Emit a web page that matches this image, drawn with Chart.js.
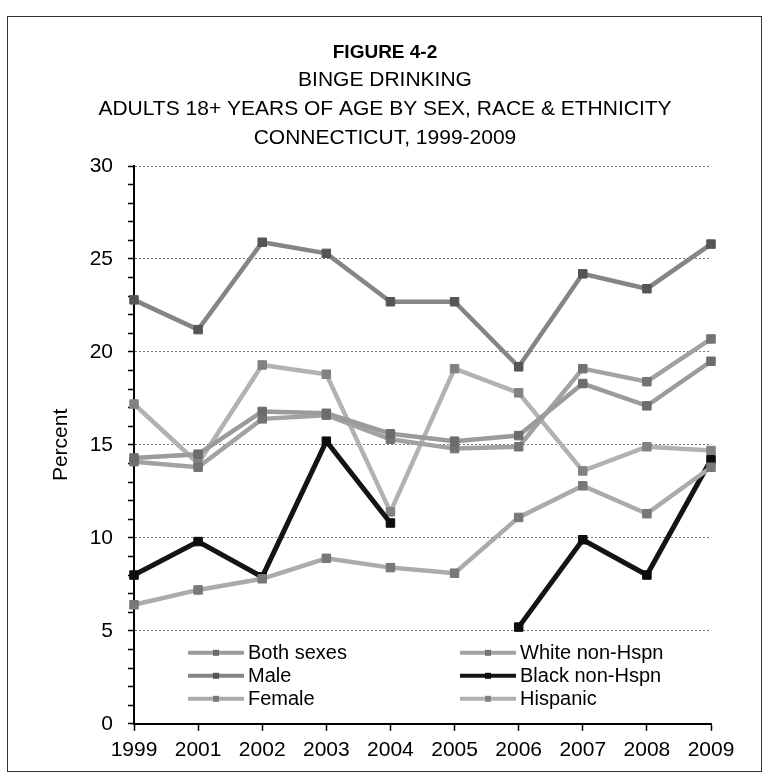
<!DOCTYPE html>
<html lang="en">
<head>
    <meta charset="UTF-8">
    <title>Binge Drinking - Figure 4-2</title>
    <script src="https://cdn.jsdelivr.net/npm/chart.js@4.4.0/dist/chart.umd.min.js"></script>
    <style>
        body { margin: 0; background: #fff; }
        #moldura { position: absolute; left: 7px; top: 16px; width: 755px; height: 756px; border: 1.5px solid #333; box-sizing: border-box; }
        #canvas_grafico { position: absolute; left: 0; top: 0; }
    </style>
</head>
<body>
    <div id="moldura"></div>
    <canvas id="canvas_grafico" width="763" height="778"></canvas>

    <script>
        // dados (percentual)
        const anos = ['1999', '2001', '2002', '2003', '2004', '2005', '2006', '2007', '2008', '2009'];
        const nomesSeries = ['Both sexes', 'Male', 'Female', 'White non-Hspn', 'Black non-Hspn', 'Hispanic'];

        const ambosSexos = [14.3, 14.5, 16.8, 16.7, 15.6, 15.2, 15.5, 18.3, 17.1, 19.5];
        const masculino  = [22.8, 21.2, 25.9, 25.3, 22.7, 22.7, 19.2, 24.2, 23.4, 25.8];
        const feminino   = [6.4, 7.2, 7.8, 8.9, 8.4, 8.1, 11.1, 12.8, 11.3, 13.8];
        const brancos    = [14.1, 13.8, 16.4, 16.6, 15.3, 14.8, 14.9, 19.1, 18.4, 20.7];
        const negros     = [8.0, 9.8, 7.9, 15.2, 10.8, null, 5.2, 9.9, 8.0, 14.2];
        const hispanicos = [17.2, 14.0, 19.3, 18.8, 11.4, 19.1, 17.8, 13.6, 14.9, 14.7];

        const tituloFigura = 'FIGURE 4-2';
        const tituloLinhas = ['BINGE DRINKING', 'ADULTS 18+ YEARS OF AGE BY SEX, RACE & ETHNICITY', 'CONNECTICUT, 1999-2009'];

        const fonte = "'Liberation Sans', Arial, sans-serif";
        const coresLinha = ['#9b9b9b', '#858585', '#ababab', '#a2a2a2', '#141414', '#b2b2b2'];
        const coresPonto = ['#6c6c6c', '#555555', '#787878', '#737373', '#0c0c0c', '#828282'];
        const valores = [ambosSexos, masculino, feminino, brancos, negros, hispanicos];

        // titulo centrado na figura inteira (nao so na area do grafico)
        const tituloPlugin = {
            id: 'tituloFigura',
            afterDraw(chart) {
                const c = chart.ctx;
                c.save();
                c.fillStyle = '#000';
                c.textAlign = 'center';
                c.textBaseline = 'middle';
                c.font = 'bold 19px ' + fonte;
                c.fillText(tituloFigura, 385, 53);
                c.font = '21px ' + fonte;
                tituloLinhas.forEach(function (t, i) {
                    c.fillText(t, 385, 80 + i * 29);
                });
                c.restore();
            }
        };

        // legenda em duas colunas dentro da area do grafico
        const legendaPlugin = {
            id: 'legendaColunas',
            afterDatasetsDraw(chart) {
                const c = chart.ctx;
                const area = chart.chartArea;
                c.save();
                chart.data.datasets.forEach(function (ds, i) {
                    const col = i < 3 ? 0 : 1;
                    const row = i % 3;
                    const x1 = col == 0 ? area.left + 54 : area.left + 326;
                    const x2 = x1 + 56;
                    const y = area.bottom - 71 + row * 23;
                    c.strokeStyle = ds.borderColor;
                    c.lineWidth = 4;
                    c.beginPath();
                    c.moveTo(x1, y);
                    c.lineTo(x2, y);
                    c.stroke();
                    c.fillStyle = ds.pointBackgroundColor;
                    c.fillRect((x1 + x2) / 2 - 3, y - 3, 6, 6);
                    c.fillStyle = '#000';
                    c.font = '20px ' + fonte;
                    c.textAlign = 'left';
                    c.textBaseline = 'middle';
                    c.fillText(ds.label, x2 + 4, y + 1);
                });
                c.restore();
            }
        };

        const datasets = nomesSeries.map(function (nome, i) {
            return {
                label: nome,
                data: valores[i],
                borderColor: coresLinha[i],
                backgroundColor: coresPonto[i],
                pointBackgroundColor: coresPonto[i],
                pointBorderColor: coresPonto[i],
                borderWidth: i == 4 ? 5 : 4.5,
                pointStyle: 'rect',
                pointRadius: 6,
                pointBorderWidth: 1,
                tension: 0,
                spanGaps: false
            };
        });

        const ctx = document.getElementById('canvas_grafico').getContext('2d');
        const grafico = new Chart(ctx, {
            type: 'line',
            data: { labels: anos, datasets: datasets },
            plugins: [legendaPlugin, tituloPlugin],
            options: {
                responsive: false,
                animation: false,
                layout: { padding: { left: 0, right: 52, top: 166, bottom: 8 } },
                plugins: {
                    legend: { display: false },
                    tooltip: { enabled: false },
                    title: { display: false }
                },
                scales: {
                    x: {
                        offset: false,
                        grid: { drawOnChartArea: false, tickLength: 7, tickColor: '#000', tickWidth: 1.5 },
                        border: { color: '#000', width: 2 },
                        ticks: { color: '#000', font: { family: fonte, size: 21 }, padding: 7, maxRotation: 0, autoSkip: false }
                    },
                    y: {
                        min: 0,
                        max: 30,
                        afterFit: function (s) { s.width = 134; },
                        title: {
                            display: true,
                            text: 'Percent',
                            color: '#000',
                            font: { family: fonte, size: 21 },
                            padding: { top: 49, bottom: 0 }
                        },
                        grid: {
                            color: function (c) { return (c.tick && c.tick.value % 5 == 0 && c.tick.value > 0) ? '#777' : 'rgba(0,0,0,0)'; },
                            lineWidth: 1,
                            tickLength: 6,
                            tickColor: '#000',
                            tickWidth: 1.5
                        },
                        border: { color: '#000', width: 2, dash: [2, 2] },
                        ticks: {
                            stepSize: 1,
                            autoSkip: false,
                            padding: 15,
                            color: '#000',
                            font: { family: fonte, size: 21 },
                            callback: function (v) { return v % 5 == 0 ? v : ''; }
                        }
                    }
                }
            }
        });
    </script>
</body>
</html>
